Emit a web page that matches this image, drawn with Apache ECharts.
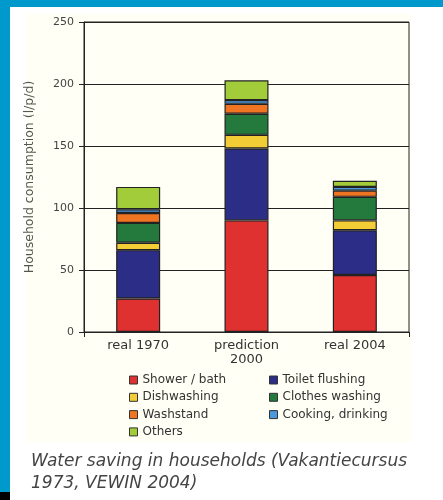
<!DOCTYPE html>
<html><head><meta charset="utf-8">
<script src="https://cdn.jsdelivr.net/npm/echarts@6/dist/echarts.min.js"></script>
<style>html,body{margin:0;padding:0;background:#0099cc;}#c{width:443px;height:500px;}</style>
</head><body><div id="c"></div>
<script>
const categories = ['real 1970', 'prediction\n2000', 'real 2004'];
const seriesNames = ['Shower / bath', 'Toilet flushing', 'Dishwashing', 'Clothes washing', 'Washstand', 'Cooking, drinking', 'Others'];
const shower   = [27, 90, 46];
const toilet   = [39, 58, 36];
const dish     = [6, 11, 8];
const clothes  = [16, 17, 19];
const washstand= [8, 8, 5];
const cooking  = [3, 3, 3];
const others   = [18, 16, 5];
const yTicks = [0, 50, 100, 150, 200, 250];
const colors = ['#e03131', '#2b2d86', '#f2cd35', '#237a3c', '#ef7522', '#4b98dc', '#a2cc3a'];
const values = [shower, toilet, dish, clothes, washstand, cooking, others];

const chart = echarts.init(document.getElementById('c'));
const font = 'DejaVu Sans';
chart.setOption({
  animation: false,
  backgroundColor: '#0099cc',
  graphic: [
    {type:'rect', z:-10, shape:{x:10,y:7,width:433,height:493}, style:{fill:'#ffffff'}},
    {type:'rect', z:-9, shape:{x:26,y:14,width:386,height:428}, style:{fill:'#fffff5'}},
    {type:'rect', z:-9, shape:{x:0,y:492,width:10,height:8}, style:{fill:'#000000'}},
    {type:'text', left:31, top:451, style:{text:'Water saving in households (Vakantiecursus\n1973, VEWIN 2004)', font:'italic 17px "DejaVu Sans"', fill:'#444', lineHeight:22}}
  ],
  grid: {left:84, top:22, right:34, bottom:168, show:true, borderColor:'#222', borderWidth:1, backgroundColor:'transparent'},
  legend: [
    {data:[seriesNames[0], seriesNames[2], seriesNames[4], seriesNames[6]], orient:'vertical', left:124, top:369, itemWidth:8, itemHeight:8, itemGap:5.3, icon:'rect',
     itemStyle:{borderColor:'#333', borderWidth:1}, textStyle:{fontFamily:font, fontSize:12, color:'#333', lineHeight:12}},
    {data:[seriesNames[1], seriesNames[3], seriesNames[5]], orient:'vertical', left:264, top:369, itemWidth:8, itemHeight:8, itemGap:5.3, icon:'rect',
     itemStyle:{borderColor:'#333', borderWidth:1}, textStyle:{fontFamily:font, fontSize:12, color:'#333', lineHeight:12}}
  ],
  xAxis: {type:'category', data:categories,
    axisLine:{lineStyle:{color:'#222', width:1}},
    axisTick:{show:true, interval:2, length:5, lineStyle:{color:'#222'}},
    axisLabel:{fontFamily:font, fontSize:13, color:'#333', margin:7, lineHeight:14}},
  yAxis: {type:'value', min:0, max:250, interval:50,
    name:'Household consumption (l/p/d)', nameLocation:'middle', nameGap:48,
    nameTextStyle:{fontFamily:font, fontSize:12.5, color:'#555'},
    axisLine:{show:true, lineStyle:{color:'#222', width:1}},
    axisTick:{show:true, length:5, lineStyle:{color:'#222'}},
    splitLine:{show:true, lineStyle:{color:'#222', width:1}},
    axisLabel:{fontFamily:font, fontSize:11, color:'#444', margin:10,
      formatter: v => yTicks.includes(v) ? String(v) : ''}},
  series: seriesNames.map((n, i) => ({
    name:n, type:'bar', stack:'total', barWidth:44, data:values[i],
    itemStyle:{color:colors[i], borderColor:'#222', borderWidth:1.2}
  }))
});
</script></body></html>
